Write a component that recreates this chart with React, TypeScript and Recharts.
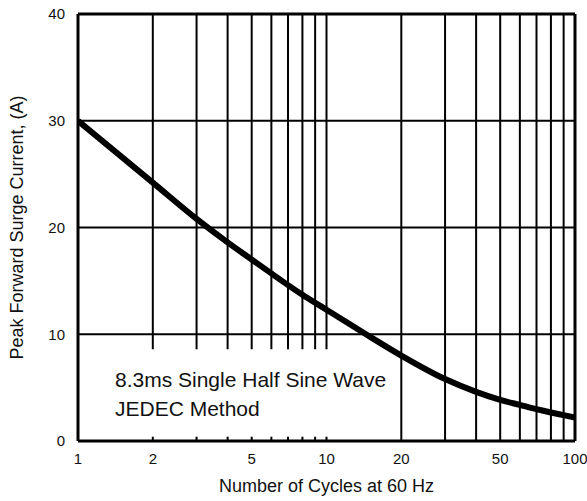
import React from "react";
import {
  LineChart,
  Line,
  XAxis,
  YAxis,
  ReferenceLine,
  ReferenceArea,
} from "recharts";

const cycles = [1, 2, 3, 4, 5, 6, 7, 8, 9, 10, 15, 20, 30, 40, 50, 60, 70, 80, 90, 100];
const surgeCurrent = [30, 24.2, 20.8, 18.6, 17.0, 15.7, 14.6, 13.7, 12.95, 12.3, 9.75, 8.0, 5.8, 4.6, 3.85, 3.38, 2.98, 2.67, 2.42, 2.2];

const xTicks = [1, 2, 5, 10, 20, 50, 100];
const yTicks = [0, 10, 20, 30, 40];
const xGrid = [2, 3, 4, 5, 6, 7, 8, 9, 10, 20, 30, 40, 50, 60, 70, 80, 90];
const yGrid = [10, 20, 30];
const noteLines = ["8.3ms Single Half Sine Wave", "JEDEC Method"];

// note box, in data units
const boxX = [1, 17];
const boxY = [0.4, 8.6];

const data = cycles.map((c, i) => ({ cycles: c, current: surgeCurrent[i] }));

const FONT = "'Liberation Sans', Arial, Helvetica, sans-serif";

function NoteLabel(props: any) {
  const vb = props.viewBox || {};
  const x = (vb.x ?? 0) + 37;
  const y = vb.y ?? 0;
  return (
    <g>
      {noteLines.map((t, i) => (
        <text
          key={t}
          x={x}
          y={y + 38 + i * 29}
          fontSize={21}
          fontFamily={FONT}
          fill="#111"
        >
          {t}
        </text>
      ))}
    </g>
  );
}

export default function App() {
  return (
    <div style={{ position: "absolute", left: 0, top: 0, background: "#fff" }}>
      <LineChart
        width={587}
        height={501}
        data={data}
        margin={{ top: 14, right: 12, bottom: 0, left: 0 }}
      >
        <XAxis
          dataKey="cycles"
          type="number"
          scale="log"
          domain={[1, 100]}
          ticks={xTicks}
          allowDataOverflow
          tickLine={false}
          axisLine={false}
          tickMargin={6}
          height={60}
          tick={{ fill: "#111", fontSize: 15, fontFamily: FONT }}
          label={{
            value: "Number of Cycles at 60 Hz",
            position: "insideBottom",
            offset: 9,
            style: { fill: "#111", fontSize: 18, fontFamily: FONT },
          }}
        />
        <YAxis
          type="number"
          domain={[0, 40]}
          ticks={yTicks}
          width={78}
          tickLine={false}
          axisLine={false}
          tickMargin={7}
          tick={{ fill: "#111", fontSize: 15, fontFamily: FONT }}
          label={{
            value: "Peak Forward Surge Current, (A)",
            angle: -90,
            position: "insideLeft",
            offset: 17,
            style: { textAnchor: "middle", fill: "#111", fontSize: 18, fontFamily: FONT },
          }}
        />
        <ReferenceArea
          x1={boxX[0]}
          x2={boxX[1]}
          y1={boxY[0]}
          y2={boxY[1]}
          fill="#fff"
          fillOpacity={1}
          stroke="none"
          label={<NoteLabel />}
        />
        {xGrid.map((v) =>
          v < boxX[1] ? (
            <React.Fragment key={"x" + v}>
              <ReferenceLine
                segment={[{ x: v, y: boxY[1] }, { x: v, y: 40 }]}
                stroke="#000"
                strokeWidth={2}
              />
              <ReferenceLine
                segment={[{ x: v, y: 0 }, { x: v, y: boxY[0] }]}
                stroke="#000"
                strokeWidth={2}
              />
            </React.Fragment>
          ) : (
            <ReferenceLine key={"x" + v} x={v} stroke="#000" strokeWidth={2} />
          )
        )}
        {yGrid.map((v) => (
          <ReferenceLine key={"y" + v} y={v} stroke="#000" strokeWidth={2} />
        ))}
        <ReferenceLine x={1} stroke="#000" strokeWidth={3} />
        <ReferenceLine x={100} stroke="#000" strokeWidth={3} />
        <ReferenceLine y={0} stroke="#000" strokeWidth={3} />
        <ReferenceLine y={40} stroke="#000" strokeWidth={3} />
        <Line
          type="monotone"
          dataKey="current"
          stroke="#000"
          strokeWidth={6}
          dot={false}
          isAnimationActive={false}
        />
      </LineChart>
    </div>
  );
}
